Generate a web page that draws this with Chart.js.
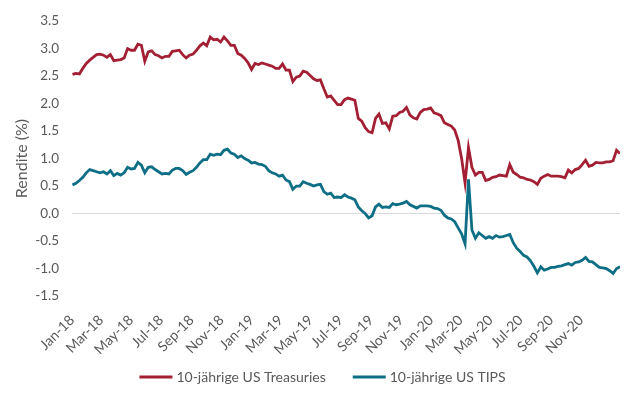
<!DOCTYPE html>
<html>
<head>
<meta charset="utf-8">
<script src="https://cdn.jsdelivr.net/npm/chart.js@4.4.1/dist/chart.umd.min.js"></script>
<style>
  html, body { margin: 0; padding: 0; background: #fff; }
</style>
</head>
<body>
<canvas id="chart" width="639" height="394"></canvas>
<script>
// Wöchentliche Renditen (dienstags), ab 2. Jan 2018
const tickLabels = ["Jan-18", "Mar-18", "May-18", "Jul-18", "Sep-18", "Nov-18",
  "Jan-19", "Mar-19", "May-19", "Jul-19", "Sep-19", "Nov-19",
  "Jan-20", "Mar-20", "May-20", "Jul-20", "Sep-20", "Nov-20"];

const treasuries = [
  // 2018
  2.53, 2.55, 2.54, 2.64, 2.73, 2.79, 2.84, 2.89, 2.90, 2.88, 2.84, 2.89, 2.78,
  2.79, 2.80, 2.83, 3.00, 2.97, 2.97, 3.08, 3.06, 2.77, 2.94, 2.96, 2.89, 2.87,
  2.83, 2.86, 2.86, 2.95, 2.96, 2.97, 2.89, 2.83, 2.88, 2.90, 2.97, 3.05, 3.10,
  3.05, 3.21, 3.16, 3.17, 3.12, 3.21, 3.14, 3.06, 3.06, 2.91, 2.88, 2.82, 2.74,
  // 2019
  2.62, 2.73, 2.71, 2.74, 2.72, 2.70, 2.68, 2.64, 2.64, 2.72, 2.61, 2.61, 2.40,
  2.48, 2.50, 2.59, 2.57, 2.51, 2.45, 2.42, 2.43, 2.27, 2.12, 2.14, 2.06, 1.98,
  1.98, 2.07, 2.10, 2.08, 2.06, 1.73, 1.68, 1.56, 1.49, 1.47, 1.73, 1.81, 1.64,
  1.65, 1.54, 1.77, 1.78, 1.84, 1.86, 1.93, 1.79, 1.74, 1.72, 1.84, 1.89, 1.90, 1.92,
  // 2020
  1.83, 1.81, 1.78, 1.65, 1.62, 1.59, 1.52, 1.33, 1.00, 0.56, 1.20, 0.84, 0.70,
  0.75, 0.75, 0.60, 0.62, 0.66, 0.67, 0.70, 0.69, 0.68, 0.89, 0.75, 0.71, 0.66,
  0.65, 0.62, 0.61, 0.58, 0.53, 0.64, 0.68, 0.71, 0.68, 0.68, 0.68, 0.67, 0.65,
  0.79, 0.74, 0.80, 0.82, 0.89, 0.97, 0.86, 0.88, 0.93, 0.92, 0.92, 0.94, 0.94,
  // 2021
  0.96, 1.15, 1.09
];

const tips = [
  // 2018
  0.52, 0.55, 0.60, 0.66, 0.74, 0.80, 0.78, 0.76, 0.74, 0.76, 0.72, 0.78, 0.69,
  0.73, 0.70, 0.74, 0.84, 0.81, 0.82, 0.93, 0.88, 0.74, 0.84, 0.85, 0.80, 0.76,
  0.72, 0.73, 0.72, 0.79, 0.82, 0.82, 0.78, 0.71, 0.75, 0.78, 0.84, 0.92, 0.98,
  0.98, 1.08, 1.06, 1.08, 1.07, 1.15, 1.17, 1.10, 1.08, 1.02, 1.05, 1.00, 0.97,
  // 2019
  0.92, 0.93, 0.90, 0.89, 0.86, 0.78, 0.74, 0.72, 0.68, 0.70, 0.61, 0.58, 0.44,
  0.50, 0.50, 0.58, 0.55, 0.53, 0.50, 0.52, 0.53, 0.40, 0.35, 0.37, 0.29, 0.30,
  0.29, 0.34, 0.30, 0.28, 0.25, 0.12, 0.05, 0.00, -0.08, -0.04, 0.12, 0.17, 0.11,
  0.12, 0.11, 0.18, 0.16, 0.17, 0.19, 0.22, 0.16, 0.13, 0.10, 0.14, 0.14, 0.14, 0.13,
  // 2020
  0.10, 0.09, 0.06, -0.03, -0.08, -0.10, -0.15, -0.26, -0.37, -0.55, 0.62, -0.30, -0.45,
  -0.35, -0.40, -0.45, -0.42, -0.45, -0.40, -0.43, -0.42, -0.40, -0.38, -0.53, -0.63, -0.69,
  -0.76, -0.79, -0.86, -0.96, -1.08, -0.97, -1.03, -1.01, -0.98, -0.98, -0.96, -0.95, -0.93,
  -0.91, -0.94, -0.89, -0.88, -0.85, -0.80, -0.87, -0.88, -0.93, -0.98, -0.99, -1.00, -1.04,
  // 2021
  -1.09, -1.00, -0.97
];

const DAY = 86400000;
const t0 = Date.UTC(2018, 0, 1);
const months = { Jan: 0, Mar: 2, May: 4, Jul: 6, Sep: 8, Nov: 10 };
const tickDays = tickLabels.map(l => {
  const [m, y] = l.split("-");
  return (Date.UTC(2000 + Number(y), months[m], 1) - t0) / DAY;
});
const weekDay = i => 1 + 7 * i;   // 2. Jan 2018 + i Wochen

const red = "#A31F33";
const teal = "#0E6E86";
const grey = "#595959";
const font = { family: "Lato", size: 14 };

// Legende unten, selbst gezeichnet (Linie + Text, Abstand wie im Original)
const bottomLegend = {
  id: "bottomLegend",
  afterDraw(chart) {
    const ctx = chart.ctx;
    ctx.save();
    ctx.font = "14px Lato";
    ctx.textBaseline = "middle";
    const items = chart.data.datasets.map(ds => ({
      text: ds.label,
      color: ds.borderColor,
      w: 37 + ctx.measureText(ds.label).width
    }));
    const gap = 27;
    const total = items.reduce((s, it) => s + it.w, 0) + gap * (items.length - 1);
    let x = (chart.width - total) / 2 + 3;
    const y = 377;
    items.forEach(it => {
      ctx.strokeStyle = it.color;
      ctx.lineWidth = 3;
      ctx.beginPath();
      ctx.moveTo(x, y);
      ctx.lineTo(x + 33, y);
      ctx.stroke();
      ctx.fillStyle = grey;
      ctx.fillText(it.text, x + 37, y);
      x += it.w + gap;
    });
    ctx.restore();
  }
};

new Chart(document.getElementById("chart"), {
  type: "line",
  data: {
    datasets: [{
      label: "10-jährige US Treasuries",
      data: treasuries.map((v, i) => ({ x: weekDay(i), y: v })),
      borderColor: red,
      backgroundColor: red,
      borderWidth: 2.8,
      pointRadius: 0,
      order: 1
    }, {
      label: "10-jährige US TIPS",
      data: tips.map((v, i) => ({ x: weekDay(i), y: v })),
      borderColor: teal,
      backgroundColor: teal,
      borderWidth: 2.8,
      pointRadius: 0,
      order: 0
    }]
  },
  plugins: [bottomLegend],
  options: {
    responsive: false,
    animation: false,
    layout: { padding: { left: 8, right: 19, top: 10, bottom: 40 } },
    plugins: {
      tooltip: { enabled: false },
      legend: { display: false }
    },
    scales: {
      x: {
        type: "linear",
        min: 0,
        max: 1114,
        grid: { display: false },
        border: { display: false },
        afterBuildTicks: s => { s.ticks = tickDays.map(v => ({ value: v })); },
        afterFit: s => { s.height = 58; },
        ticks: {
          autoSkip: false,
          minRotation: 45,
          maxRotation: 45,
          padding: 8,
          color: grey,
          font: font,
          callback: (v, i) => tickLabels[i]
        }
      },
      y: {
        min: -1.5,
        max: 3.5,
        border: { display: false },
        grid: {
          drawTicks: false,
          color: c => c.tick.value === 0 ? "#D9D9D9" : "rgba(0,0,0,0)"
        },
        afterFit: s => { s.width = 64; },
        ticks: {
          stepSize: 0.5,
          padding: 13,
          color: grey,
          font: { family: "Lato", size: 13.5 },
          callback: v => v.toFixed(1)
        },
        title: { display: true, text: "Rendite (%)", color: grey, font: { family: "Lato", size: 16 } }
      }
    }
  }
});
</script>
</body>
</html>
